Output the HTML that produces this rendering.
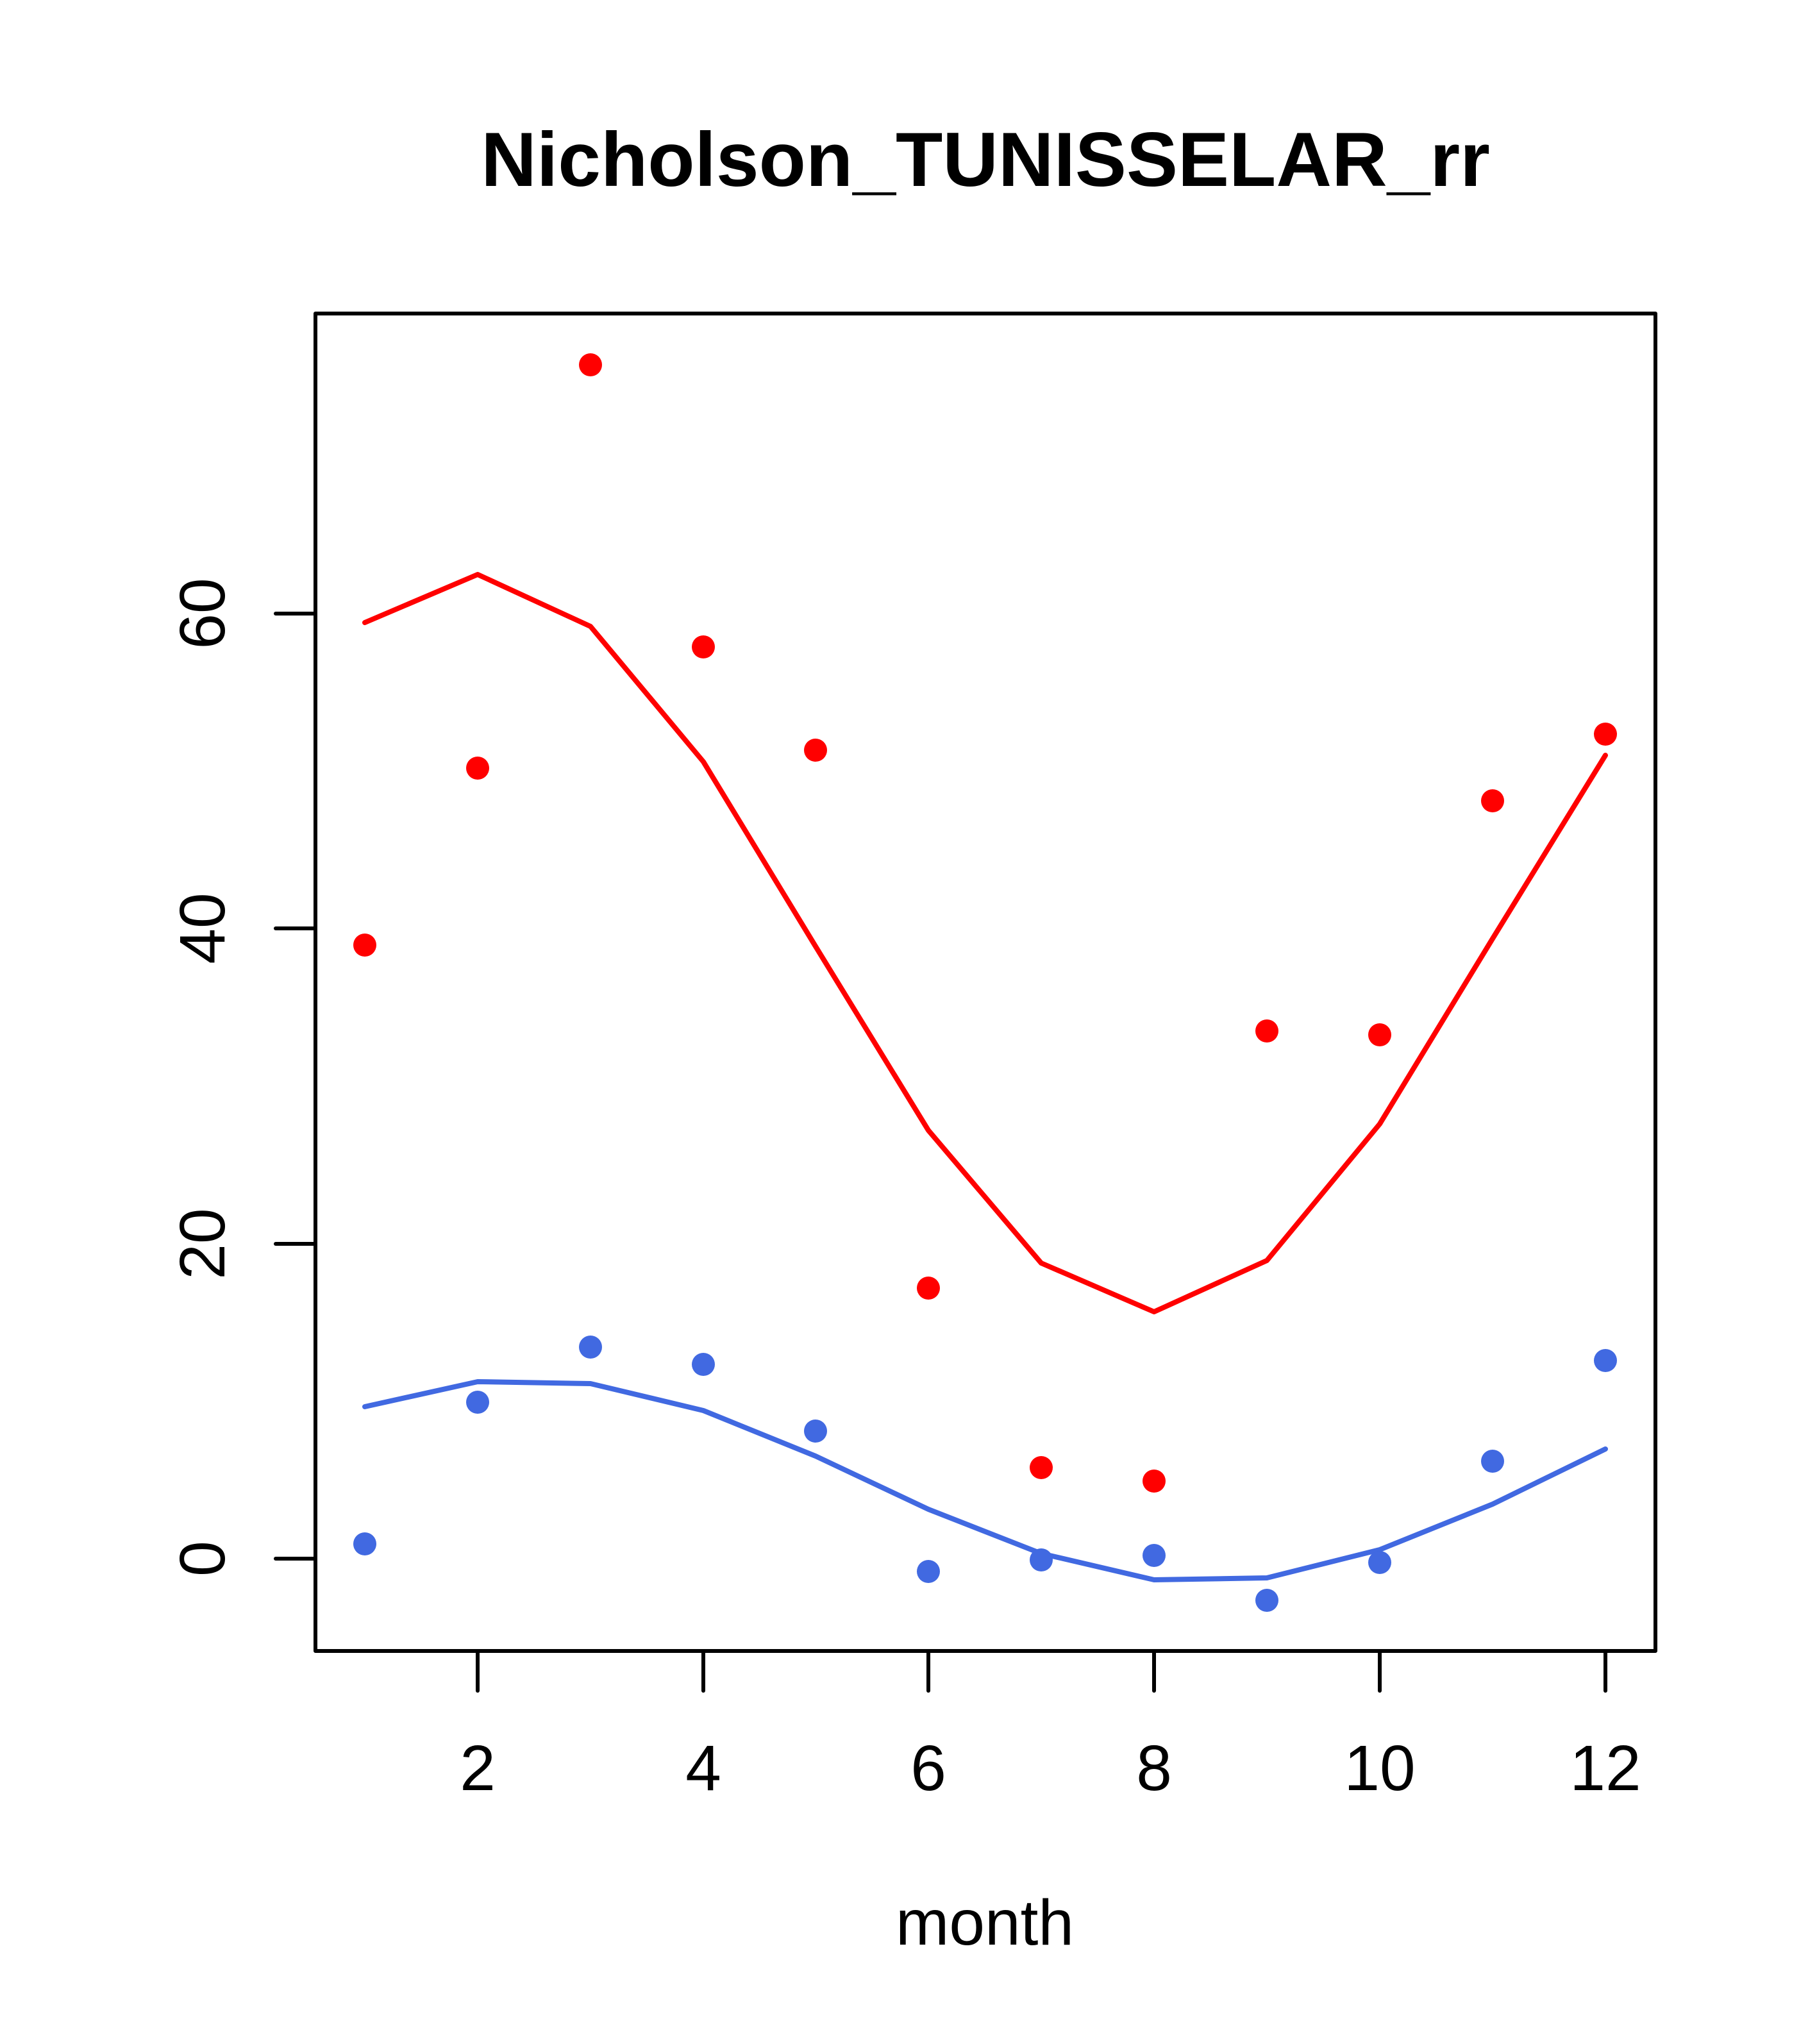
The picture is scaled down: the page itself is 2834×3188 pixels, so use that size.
<!DOCTYPE html>
<html><head><meta charset="utf-8"><style>html,body{margin:0;padding:0;background:#fff}svg{display:block}</style></head>
<body>
<svg width="2834" height="3188" viewBox="0 0 2834 3188" xmlns="http://www.w3.org/2000/svg" font-family="'Liberation Sans', Arial, sans-serif">
<rect width="2834" height="3188" fill="#fff"/>
<text x="1537" y="290" font-size="120" font-weight="bold" text-anchor="middle">Nicholson_TUNISSELAR_rr</text>
<rect x="492" y="489" width="2090" height="2086" fill="none" stroke="#000" stroke-width="6" stroke-linejoin="round"/>
<g stroke="#000" stroke-width="6" stroke-linecap="round">
<line x1="745" y1="2575" x2="745" y2="2637"/>
<line x1="1097" y1="2575" x2="1097" y2="2637"/>
<line x1="1448" y1="2575" x2="1448" y2="2637"/>
<line x1="1800" y1="2575" x2="1800" y2="2637"/>
<line x1="2152" y1="2575" x2="2152" y2="2637"/>
<line x1="2504" y1="2575" x2="2504" y2="2637"/>
<line x1="492" y1="2431" x2="430" y2="2431"/>
<line x1="492" y1="1940" x2="430" y2="1940"/>
<line x1="492" y1="1448" x2="430" y2="1448"/>
<line x1="492" y1="957" x2="430" y2="957"/>
</g>
<g font-size="100" text-anchor="middle">
<text x="745" y="2792">2</text>
<text x="1097" y="2792">4</text>
<text x="1448" y="2792">6</text>
<text x="1800" y="2792">8</text>
<text x="2152" y="2792">10</text>
<text x="2504" y="2792">12</text>
<text transform="translate(350,2431) rotate(-90)">0</text>
<text transform="translate(350,1940) rotate(-90)">20</text>
<text transform="translate(350,1448) rotate(-90)">40</text>
<text transform="translate(350,957) rotate(-90)">60</text>
<text x="1536" y="3033">month</text>
</g>
<polyline fill="none" stroke="#ff0000" stroke-width="8" stroke-linecap="round" stroke-linejoin="round" points="569,971 745,896 921,977 1097,1188 1272,1476 1448,1763 1624,1970 1800,2046 1976,1966 2152,1753 2328,1464 2504,1178"/>
<polyline fill="none" stroke="#4169e1" stroke-width="8" stroke-linecap="round" stroke-linejoin="round" points="569,2194 745,2155 921,2158 1097,2200 1272,2271 1448,2354 1624,2423 1800,2464 1976,2461 2152,2417 2328,2346 2504,2260"/>
<g fill="#ff0000">
<circle cx="569" cy="1474" r="18"/><circle cx="745" cy="1198" r="18"/><circle cx="921" cy="569" r="18"/>
<circle cx="1097" cy="1009" r="18"/><circle cx="1272" cy="1170" r="18"/><circle cx="1448" cy="2009" r="18"/>
<circle cx="1624" cy="2289" r="18"/><circle cx="1800" cy="2310" r="18"/><circle cx="1976" cy="1608" r="18"/>
<circle cx="2152" cy="1614" r="18"/><circle cx="2328" cy="1249" r="18"/><circle cx="2504" cy="1145" r="18"/>
</g>
<g fill="#4169e1">
<circle cx="569" cy="2408" r="18"/><circle cx="745" cy="2187" r="18"/><circle cx="921" cy="2101" r="18"/>
<circle cx="1097" cy="2128" r="18"/><circle cx="1272" cy="2232" r="18"/><circle cx="1448" cy="2451" r="18"/>
<circle cx="1624" cy="2433" r="18"/><circle cx="1800" cy="2426" r="18"/><circle cx="1976" cy="2496" r="18"/>
<circle cx="2152" cy="2437" r="18"/><circle cx="2328" cy="2279" r="18"/><circle cx="2504" cy="2122" r="18"/>
</g>
</svg>
</body></html>
